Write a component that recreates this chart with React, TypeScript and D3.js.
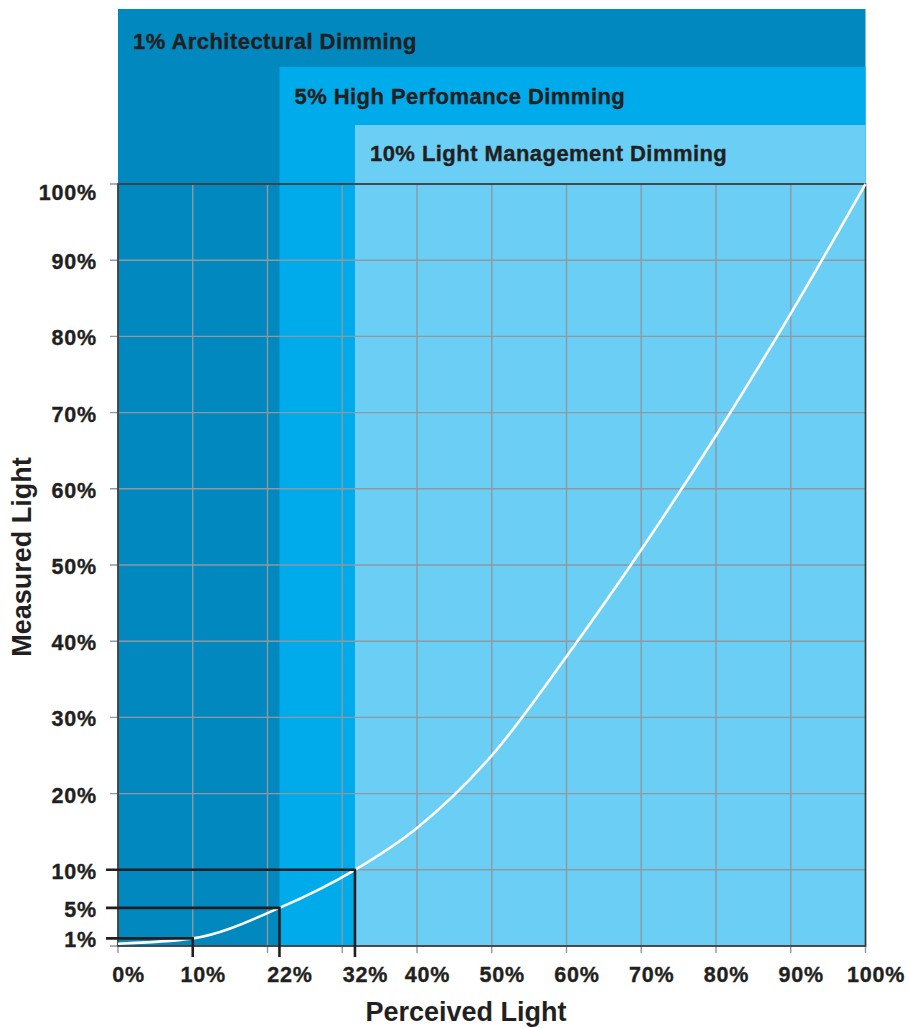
import React from "react";
import * as d3 from "d3";

// ---- data ----
const perceived = [0, 10, 21.6, 31.7, 40, 50, 60, 70, 80, 90, 100];
const measured = [0.3, 1, 5, 10, 15.5, 25, 38, 52, 67, 83, 100];

const xTicks = [0, 10, 21.6, 31.7, 40, 50, 60, 70, 80, 90, 100];
const xTickLabels = ["0%", "10%", "22%", "32%", "40%", "50%", "60%", "70%", "80%", "90%", "100%"];
const gridValues = [0, 10, 20, 30, 40, 50, 60, 70, 80, 90, 100];
const yTicks = [1, 5, 10, 20, 30, 40, 50, 60, 70, 80, 90, 100];
const yTickLabels = ["1%", "5%", "10%", "20%", "30%", "40%", "50%", "60%", "70%", "80%", "90%", "100%"];

const bandStarts = [0, 21.6, 31.7]; // perceived % where each dimming zone starts
const bandEnds = [10, 21.6, 31.7]; // perceived % matching each dimming level
const bandLevels = [1, 5, 10]; // measured % of each dimming level
const bandLabels = ["1% Architectural Dimming", "5% High Perfomance Dimming", "10% Light Management Dimming"];
const bandColors = ["#0088bf", "#00abeb", "#6bcef5"];

const xTitle = "Perceived Light";
const yTitle = "Measured Light";

export default function App() {
  const W = 909;
  const H = 1028;
  const x = d3.scaleLinear().domain([0, 100]).range([118, 865.5]);
  const y = d3.scaleLinear().domain([0, 100]).range([946, 184]);
  const bandTops = [9, 67, 125];
  const labelBase = [49, 104, 161];

  const pts: [number, number][] = perceived.map((p, i) => [p, measured[i]]);
  const line = d3
    .line<[number, number]>()
    .x((d) => x(d[0]))
    .y((d) => y(d[1]))
    .curve(d3.curveMonotoneX);

  const font = "'Liberation Sans', Arial, Helvetica, sans-serif";
  const ink = "#231f20";
  const grid = "#8e99a2";

  return (
    <svg width={W} height={H} style={{ position: "absolute", left: 0, top: 0 }} fontFamily={font}>
      <rect width={W} height={H} fill="#ffffff" />
      {/* bands */}
      {bandStarts.map((s, i) => (
        <rect
          key={"b" + i}
          x={x(s)}
          y={bandTops[i]}
          width={x(100) - x(s)}
          height={y(0) - bandTops[i]}
          fill={bandColors[i]}
        />
      ))}
      {bandLabels.map((t, i) => (
        <text
          key={"bl" + i}
          x={x(bandStarts[i]) + 15}
          y={labelBase[i]}
          fontSize={22}
          fontWeight="bold"
          fill={ink}
          stroke={ink}
          strokeWidth={0.35}
          letterSpacing={0.45}
        >
          {t}
        </text>
      ))}
      {/* grid */}
      {gridValues.map((v) => (
        <line key={"gx" + v} x1={x(v)} x2={x(v)} y1={y(100)} y2={y(0) + 7} stroke={grid} strokeWidth={1.4} />
      ))}
      {gridValues.map((v) => (
        <line key={"gy" + v} x1={x(0) - 8} x2={x(100)} y1={y(v)} y2={y(v)} stroke={grid} strokeWidth={1.4} />
      ))}
      {/* frame */}
      <rect x={x(0)} y={y(100)} width={x(100) - x(0)} height={y(0) - y(100)} fill="none" stroke="#333333" strokeWidth={1.6} />
      {/* curve */}
      <path d={line(pts) || ""} fill="none" stroke="#ffffff" strokeWidth={2.6} />
      {/* level markers */}
      {bandLevels.map((lv, i) => (
        <path
          key={"m" + i}
          d={`M${x(0) - 12},${y(lv)}H${x(bandEnds[i])}V${y(0) + 11}`}
          fill="none"
          stroke={ink}
          strokeWidth={2.6}
        />
      ))}
      {/* tick labels */}
      {xTicks.map((v, i) => (
        <text
          key={"xt" + i}
          x={x(v) + 10.5}
          y={982}
          textAnchor="middle"
          fontSize={21.5}
          fontWeight="bold"
          fill={ink}
          stroke={ink}
          strokeWidth={0.35}
          letterSpacing={0.8}
        >
          {xTickLabels[i]}
        </text>
      ))}
      {yTicks.map((v, i) => (
        <text
          key={"yt" + i}
          x={97}
          y={Math.max(y(v) + 2, 193)}
          dominantBaseline="central"
          textAnchor="end"
          fontSize={21.5}
          fontWeight="bold"
          fill={ink}
          stroke={ink}
          strokeWidth={0.35}
          letterSpacing={0.8}
        >
          {yTickLabels[i]}
        </text>
      ))}
      {/* axis titles */}
      <text x={466} y={1021} textAnchor="middle" fontSize={27} fontWeight="bold" fill={ink}>
        {xTitle}
      </text>
      <text
        transform={`translate(31,557) rotate(-90)`}
        textAnchor="middle"
        fontSize={27}
        fontWeight="bold"
        fill={ink}
      >
        {yTitle}
      </text>
    </svg>
  );
}
